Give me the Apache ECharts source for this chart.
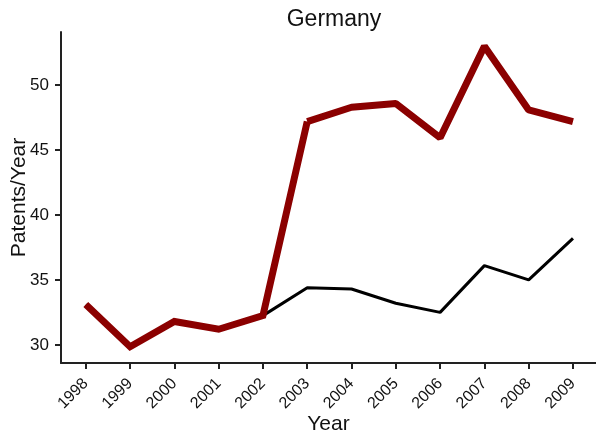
<!DOCTYPE html>
<html><head><meta charset="utf-8">
<script src="https://cdn.jsdelivr.net/npm/echarts@6/dist/echarts.min.js"></script>
<style>html,body{margin:0;padding:0;background:#fff}#c{width:596px;height:439px}</style>
</head><body><div id="c"></div>
<script>
const years = [1998,1999,2000,2001,2002,2003,2004,2005,2006,2007,2008,2009];
const redValues = [33.1,29.85,31.8,31.2,32.25,47.2,48.3,48.6,45.95,53.0,48.1,47.2];
const blackValues = [33.1,29.85,31.8,31.2,32.25,34.4,34.3,33.2,32.5,36.1,35.0,38.2];
const yTicks = [30,35,40,45,50];
const title = 'Germany';
const xName = 'Year';
const yName = 'Patents/Year';

const chart = echarts.init(document.getElementById('c'));
const font = 'Liberation Sans, Arial, sans-serif';
const axisCol = '#222';
chart.setOption({
  animation: false,
  backgroundColor: '#fff',
  title: {text: title, left: 329, top: 3, textAlign: 'center',
    textStyle: {fontFamily: font, fontSize: 23, fontWeight: 'normal', color: '#111'}},
  grid: {left: 61, right: 0, top: 32, bottom: 76, outerBoundsMode: 'none', containLabel: false},
  xAxis: {
    type: 'value', min: 1997.44, max: 2009.52,
    name: xName, nameLocation: 'middle', nameGap: 51, nameMoveOverlap: false,
    nameTextStyle: {fontFamily: font, fontSize: 21, color: '#111'},
    axisLine: {show: true, lineStyle: {color: axisCol, width: 2}},
    axisTick: {show: true, length: 6, lineStyle: {color: axisCol, width: 2}, customValues: years},
    axisLabel: {customValues: years, rotate: 45, margin: 18, fontFamily: font, fontSize: 16, color: '#111',
      hideOverlap: false,
      formatter: v => String(Math.round(v))},
    splitLine: {show: false}
  },
  yAxis: {
    type: 'value', min: 28.6, max: 54.1,
    name: yName, nameLocation: 'middle', nameGap: 31, nameMoveOverlap: false,
    nameTextStyle: {fontFamily: font, fontSize: 21, color: '#111'},
    axisLine: {show: true, lineStyle: {color: axisCol, width: 2}},
    axisTick: {show: true, length: 6, lineStyle: {color: axisCol, width: 2}, customValues: yTicks},
    axisLabel: {customValues: yTicks, margin: 12, fontFamily: font, fontSize: 17, color: '#111',
      formatter: v => String(Math.round(v))},
    splitLine: {show: false}
  },
  series: [
    {type: 'line', data: years.map((y,i)=>[y, blackValues[i]]), symbol: 'none',
      lineStyle: {color: '#000', width: 3}, z: 2},
    {type: 'line', data: years.map((y,i)=>[y, redValues[i]]).slice(0,6), symbol: 'none',
      lineStyle: {color: '#8b0000', width: 7, join: 'miter'}, z: 3},
    {type: 'line', data: years.map((y,i)=>[y, redValues[i]]).slice(5), symbol: 'none',
      lineStyle: {color: '#8b0000', width: 7}, z: 3}
  ]
});
</script></body></html>
